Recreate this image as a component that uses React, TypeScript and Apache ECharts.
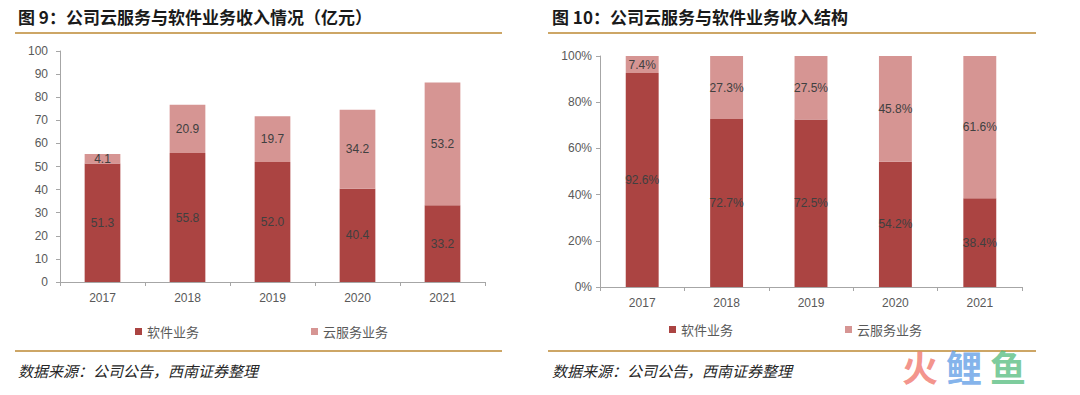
import React, { useEffect, useRef } from "react";
import * as echarts from "echarts";

const years = ["2017", "2018", "2019", "2020", "2021"];
const softwareRev = [51.3, 55.8, 52.0, 40.4, 33.2];
const cloudRev = [4.1, 20.9, 19.7, 34.2, 53.2];
const softwarePct = [92.6, 72.7, 72.5, 54.2, 38.4];
const cloudPct = [7.4, 27.3, 27.5, 45.8, 61.6];
const seriesNames = ["软件业务", "云服务业务"];
const title9 = "图 9：公司云服务与软件业务收入情况（亿元）";
const title10 = "图 10：公司云服务与软件业务收入结构";
const sourceText = "数据来源：公司公告，西南证券整理";
const watermark = ["火", "鲤", "鱼"];

const DARK = "#AB4442";
const LIGHT = "#D69593";
const GOLD = "#CDA666";
const AXIS = "#A6A6A6";
const LABEL = "#595959";
const CJK = "'Noto Sans CJK SC', sans-serif";
const NUM = "'Liberation Sans', Arial, sans-serif";
const WM_COLORS = ["rgba(240,120,110,0.8)", "rgba(100,160,230,0.8)", "rgba(90,190,130,0.8)"];

export default function App() {
  const ref = useRef<HTMLDivElement>(null);
  useEffect(() => {
    document.body.style.margin = "0";
    const chart = echarts.init(ref.current!, null, { renderer: "svg" });
    const barLabel = (pct: boolean) => ({
      show: true,
      position: "inside",
      color: "#404040",
      fontFamily: NUM,
      fontSize: 12,
      formatter: (p: any) => Number(p.value).toFixed(1) + (pct ? "%" : ""),
    });
    const xAxisBase = {
      type: "category",
      data: years,
      axisLine: { lineStyle: { color: AXIS } },
      axisTick: { show: true, length: 4, lineStyle: { color: AXIS } },
      axisLabel: { color: LABEL, fontFamily: NUM, fontSize: 12, margin: 10 },
    };
    const yAxisBase = {
      type: "value",
      axisLine: { show: true, lineStyle: { color: AXIS } },
      axisTick: { show: true, length: 4, lineStyle: { color: AXIS } },
      splitLine: { show: false },
    };
    const legendBase = {
      icon: "rect",
      itemWidth: 7,
      itemHeight: 7,
      itemGap: 112,
      textStyle: { color: LABEL, fontFamily: CJK, fontSize: 13 },
      data: seriesNames,
    };
    const gline = (x1: number, x2: number, y: number) => ({
      type: "line",
      shape: { x1, y1: y, x2, y2: y },
      style: { stroke: GOLD, lineWidth: 2 },
    });
    const gtext = (x: number, y: number, text: string, extra: any) => ({
      type: "text",
      x,
      y,
      style: { text, fill: "#1a1a1a", fontFamily: CJK, textVerticalAlign: "middle", ...extra },
    });
    chart.setOption({
      animation: false,
      backgroundColor: "#ffffff",
      color: [DARK, LIGHT],
      grid: [
        { left: 60, right: 595, top: 51, bottom: 113 },
        { left: 600, right: 58, top: 56, bottom: 108 },
      ],
      legend: [
        { ...legendBase, left: 130, top: 320 },
        { ...legendBase, left: 664, top: 318 },
      ],
      xAxis: [
        { ...xAxisBase, gridIndex: 0 },
        { ...xAxisBase, gridIndex: 1 },
      ],
      yAxis: [
        {
          ...yAxisBase,
          gridIndex: 0,
          min: 0,
          max: 100,
          interval: 10,
          axisLabel: { color: LABEL, fontFamily: NUM, fontSize: 12, margin: 12 },
        },
        {
          ...yAxisBase,
          gridIndex: 1,
          min: 0,
          max: 100,
          interval: 20,
          axisLabel: {
            color: LABEL,
            fontFamily: NUM,
            fontSize: 12,
            margin: 8,
            formatter: (v: number) => v + "%",
          },
        },
      ],
      series: [
        {
          name: seriesNames[0],
          type: "bar",
          stack: "a",
          xAxisIndex: 0,
          yAxisIndex: 0,
          barWidth: "42%",
          data: softwareRev,
          itemStyle: { color: DARK },
          label: barLabel(false),
        },
        {
          name: seriesNames[1],
          type: "bar",
          stack: "a",
          xAxisIndex: 0,
          yAxisIndex: 0,
          barWidth: "42%",
          data: cloudRev,
          itemStyle: { color: LIGHT },
          label: barLabel(false),
        },
        {
          name: seriesNames[0],
          type: "bar",
          stack: "b",
          xAxisIndex: 1,
          yAxisIndex: 1,
          barWidth: "39%",
          data: softwarePct,
          itemStyle: { color: DARK },
          label: barLabel(true),
        },
        {
          name: seriesNames[1],
          type: "bar",
          stack: "b",
          xAxisIndex: 1,
          yAxisIndex: 1,
          barWidth: "39%",
          data: cloudPct,
          itemStyle: { color: LIGHT },
          label: barLabel(true),
        },
      ],
      graphic: [
        gtext(18, 16, title9, { fontSize: 17, fontWeight: "bold" }),
        gtext(552, 16, title10, { fontSize: 17, fontWeight: "bold" }),
        gline(15, 502, 33),
        gline(548, 1036, 33),
        gline(15, 502, 351),
        gline(548, 1036, 351),
        gtext(18, 370, sourceText, { fontSize: 15, fontStyle: "italic", fill: "#262626" }),
        gtext(552, 370, sourceText, { fontSize: 15, fontStyle: "italic", fill: "#262626" }),
        ...watermark.map((ch, i) =>
          gtext(902 + i * 44, 366, ch, {
            fontSize: 36,
            fontWeight: "bold",
            fill: WM_COLORS[i],
          })
        ),
      ],
    });
    return () => chart.dispose();
  }, []);
  return <div ref={ref} style={{ width: 1080, height: 395 }} />;
}
